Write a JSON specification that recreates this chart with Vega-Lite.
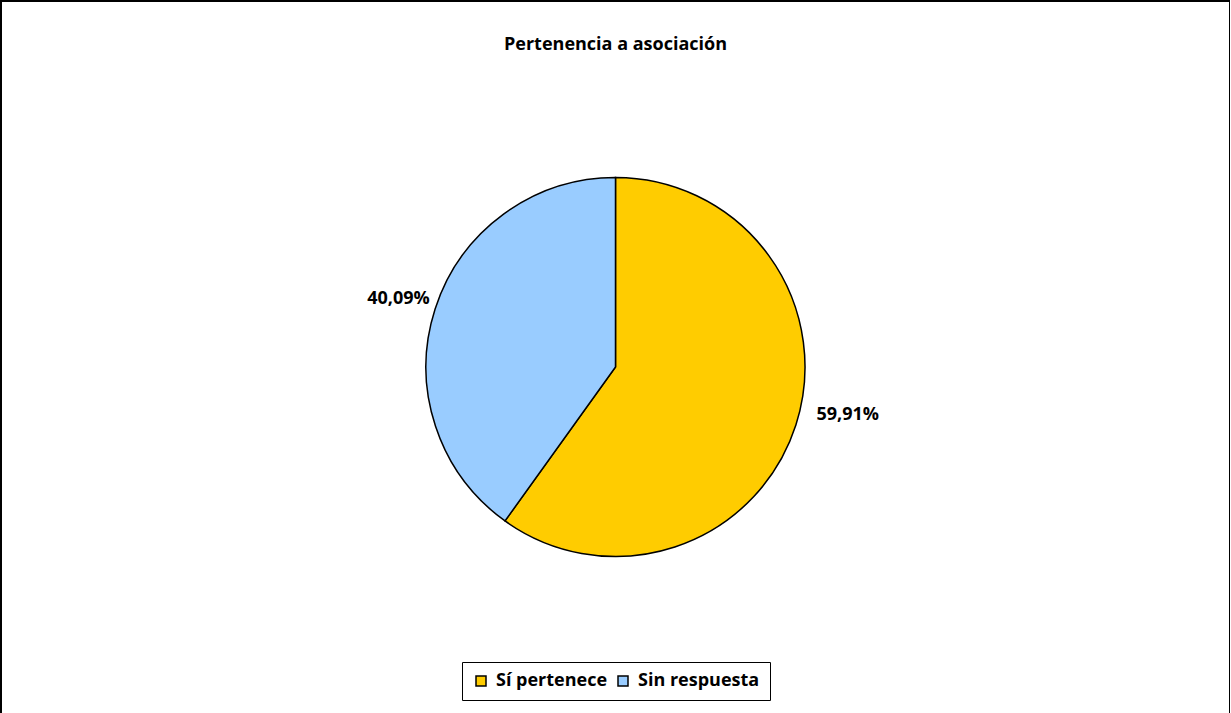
{
  "$schema": "https://vega.github.io/schema/vega-lite/v6.json",
  "width": 1229,
  "height": 732,
  "autosize": {"type": "none"},
  "padding": {"left": 1, "top": 1, "right": 0, "bottom": 0},
  "background": "white",
  "view": {"stroke": "black", "strokeWidth": 2, "fill": "white"},
  "config": {
    "font": "Open Sans",
    "locale": {"number": {"decimal": ",", "thousands": ".", "grouping": [3], "currency": ["", " €"]}}
  },
  "title": {
    "text": "Pertenencia a asociación",
    "fontSize": 18,
    "fontWeight": "bold",
    "font": "Open Sans",
    "color": "black",
    "anchor": "middle",
    "baseline": "alphabetic",
    "offset": -67
  },
  "data": {
    "values": [
      {"categoria": "Sí pertenece", "proporcion": 0.5991, "orden": 1},
      {"categoria": "Sin respuesta", "proporcion": 0.4009, "orden": 2}
    ]
  },
  "encoding": {
    "theta": {"field": "proporcion", "type": "quantitative", "stack": true},
    "order": {"field": "orden", "type": "quantitative"}
  },
  "layer": [
    {
      "mark": {"type": "arc", "outerRadius": 189.5, "stroke": "black", "strokeWidth": 1.5},
      "encoding": {
        "color": {
          "field": "categoria",
          "type": "nominal",
          "scale": {"domain": ["Sí pertenece", "Sin respuesta"], "range": ["#FFCC00", "#99CCFF"]},
          "legend": {
            "orient": "none",
            "legendX": 461,
            "legendY": 661,
            "direction": "horizontal",
            "title": null,
            "symbolType": "square",
            "symbolSize": 100,
            "symbolStrokeColor": "black",
            "symbolStrokeWidth": 1.5,
            "labelFontSize": 18,
            "labelFontWeight": "bold",
            "labelFont": "Open Sans",
            "labelColor": "black",
            "strokeColor": "black",
            "fillColor": "white",
            "padding": 10,
            "columnPadding": 6,
            "labelOffset": 6
          }
        }
      }
    },
    {
      "mark": {"type": "text", "radius": 244, "dy": -27, "fontSize": 18, "fontWeight": "bold", "font": "Open Sans", "color": "black"},
      "encoding": {
        "text": {"field": "proporcion", "type": "quantitative", "format": ".2%"},
        "opacity": {"condition": {"test": "datum.orden == 1", "value": 1}, "value": 0}
      }
    },
    {
      "mark": {"type": "text", "radius": 228, "dy": 2, "fontSize": 18, "fontWeight": "bold", "font": "Open Sans", "color": "black"},
      "encoding": {
        "text": {"field": "proporcion", "type": "quantitative", "format": ".2%"},
        "opacity": {"condition": {"test": "datum.orden == 2", "value": 1}, "value": 0}
      }
    }
  ]
}
